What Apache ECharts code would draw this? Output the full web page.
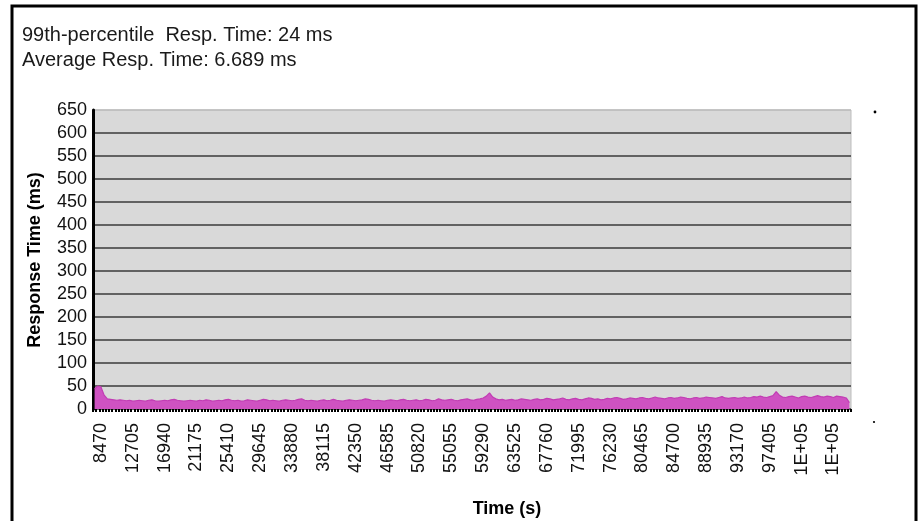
<!DOCTYPE html>
<html>
<head>
<meta charset="utf-8">
<title>Response Time</title>
<script src="https://cdn.jsdelivr.net/npm/echarts@6/dist/echarts.min.js"></script>
<style>
  html, body { margin: 0; padding: 0; background: #ffffff; }
  #chart { width: 920px; height: 521px; }
</style>
</head>
<body>
<div id="chart"></div>
<script>
// Per-sample response times (ms), upper envelope of each sampling bucket
const responseTimes = [
  44, 50, 48, 30, 22, 21, 20, 19, 20, 19,
  18, 19, 17, 18, 19, 18, 17, 19, 20, 18,
  17, 18, 19, 18, 20, 21, 19, 18, 17, 18,
  19, 18, 17, 19, 18, 20, 19, 17, 18, 19,
  18, 20, 21, 19, 18, 19, 17, 18, 20, 19,
  18, 17, 19, 21, 20, 18, 19, 18, 17, 19,
  20, 19, 18, 19, 21, 22, 19, 18, 19, 18,
  17, 19, 20, 18, 19, 21, 19, 18, 17, 19,
  20, 19, 18, 19, 20, 22, 21, 19, 18, 19,
  18, 17, 19, 20, 19, 18, 20, 21, 19, 18,
  19, 20, 18, 19, 21, 20, 18, 19, 22, 20,
  19, 20, 21, 19, 18, 20, 21, 22, 20, 19,
  21, 22, 24, 28, 35, 26, 22, 20, 21, 19,
  20, 21, 19, 20, 22, 21, 20, 19, 21, 22,
  20, 21, 23, 22, 20, 21, 22, 24, 21, 20,
  22, 23, 21, 20, 22, 24, 23, 21, 22, 20,
  21, 23, 22, 24, 25, 23, 21, 22, 24, 23,
  22, 24, 25, 23, 22, 24, 26, 24, 23, 22,
  24, 25, 23, 24, 26, 25, 23, 22, 24, 25,
  23, 24, 26, 25, 24, 23, 25, 27, 24, 23,
  24, 25, 23, 24, 26, 24, 25, 27, 26, 28,
  26, 25, 27, 29, 38, 30, 26, 25, 27, 28,
  26, 24, 27, 28, 26, 25, 27, 29, 27, 26,
  28, 27, 25, 28, 27, 26, 24, 14
];

// Time-axis labels (s), shown on every 10th sample starting at sample 2
const timeTickLabels = [
  '8470', '12705', '16940', '21175', '25410', '29645', '33880', '38115',
  '42350', '46585', '50820', '55055', '59290', '63525', '67760', '71995',
  '76230', '80465', '84700', '88935', '93170', '97405', '1E+05', '1E+05'
];
const firstLabelSample = 2;
const samplesPerLabel = 10;

// Y-axis scale (ms)
const yMin = 0;
const yMax = 650;
const yStep = 50;

const summaryLines = [
  '99th-percentile  Resp. Time: 24 ms',
  'Average Resp. Time: 6.689 ms'
];
const xAxisTitle = 'Time (s)';
const yAxisTitle = 'Response Time (ms)';

const FONT = '"Liberation Sans", Arial, sans-serif';

const sampleIndex = responseTimes.map((_, i) => String(i));

// Split lines: dark rules, with the topmost one left as a light border
const splitCount = (yMax - yMin) / yStep + 1;
const splitColors = [];
for (let k = 0; k < splitCount; k++) {
  splitColors.push(k === splitCount - 1 ? '#bdbdbd' : '#3a3a3a');
}

const chart = echarts.init(document.getElementById('chart'), null, { renderer: 'canvas' });

chart.setOption({
  animation: false,
  backgroundColor: '#ffffff',
  grid: {
    left: 93,
    right: 69,
    top: 110,
    bottom: 112,
    show: true,
    backgroundColor: '#d9d9d9',
    borderColor: '#bdbdbd',
    borderWidth: 1
  },
  xAxis: {
    type: 'category',
    data: sampleIndex,
    boundaryGap: true,
    axisLine: { show: false },
    axisTick: {
      show: true,
      interval: 0,
      length: 3,
      lineStyle: { color: '#000000', width: 2 }
    },
    axisLabel: {
      interval: (i) => i >= firstLabelSample && (i - firstLabelSample) % samplesPerLabel === 0,
      formatter: (v, i) => timeTickLabels[(i - firstLabelSample) / samplesPerLabel] || '',
      rotate: 90,
      margin: 14,
      color: '#111111',
      fontFamily: FONT,
      fontSize: 18
    },
    splitLine: { show: false }
  },
  yAxis: {
    type: 'value',
    min: yMin,
    max: yMax,
    interval: yStep,
    axisLine: { show: true, lineStyle: { color: '#000000', width: 3 } },
    axisTick: { show: false },
    axisLabel: {
      margin: 6,
      color: '#111111',
      fontFamily: FONT,
      fontSize: 18
    },
    splitLine: { show: true, lineStyle: { color: splitColors, width: 1.6 } }
  },
  series: [{
    type: 'line',
    data: responseTimes,
    showSymbol: false,
    symbol: 'none',
    smooth: false,
    lineStyle: { color: '#c23db4', width: 1.2 },
    areaStyle: { color: '#cf52c2', opacity: 1 },
    z: 3
  }],
  graphic: [
    {
      type: 'rect',
      shape: { x: 12, y: 6, width: 904, height: 540 },
      style: { fill: 'none', stroke: '#000000', lineWidth: 3 },
      silent: true
    },
    {
      type: 'text',
      x: 22, y: 35,
      style: {
        text: summaryLines[0],
        font: '20px ' + FONT,
        fill: '#1a1a1a',
        verticalAlign: 'middle'
      }
    },
    {
      type: 'text',
      x: 22, y: 60,
      style: {
        text: summaryLines[1],
        font: '20px ' + FONT,
        fill: '#1a1a1a',
        verticalAlign: 'middle'
      }
    },
    {
      type: 'text',
      x: 35, y: 260,
      rotation: Math.PI / 2,
      style: {
        text: yAxisTitle,
        font: 'bold 18px ' + FONT,
        fill: '#000000',
        align: 'center',
        verticalAlign: 'middle'
      }
    },
    {
      type: 'text',
      x: 507, y: 509,
      style: {
        text: xAxisTitle,
        font: 'bold 18px ' + FONT,
        fill: '#000000',
        align: 'center',
        verticalAlign: 'middle'
      }
    },
    {
      type: 'circle',
      shape: { cx: 875, cy: 112, r: 1.4 },
      style: { fill: '#000000' },
      silent: true
    },
    {
      type: 'circle',
      shape: { cx: 874, cy: 422, r: 1.1 },
      style: { fill: '#000000' },
      silent: true
    }
  ]
});
</script>
</body>
</html>
